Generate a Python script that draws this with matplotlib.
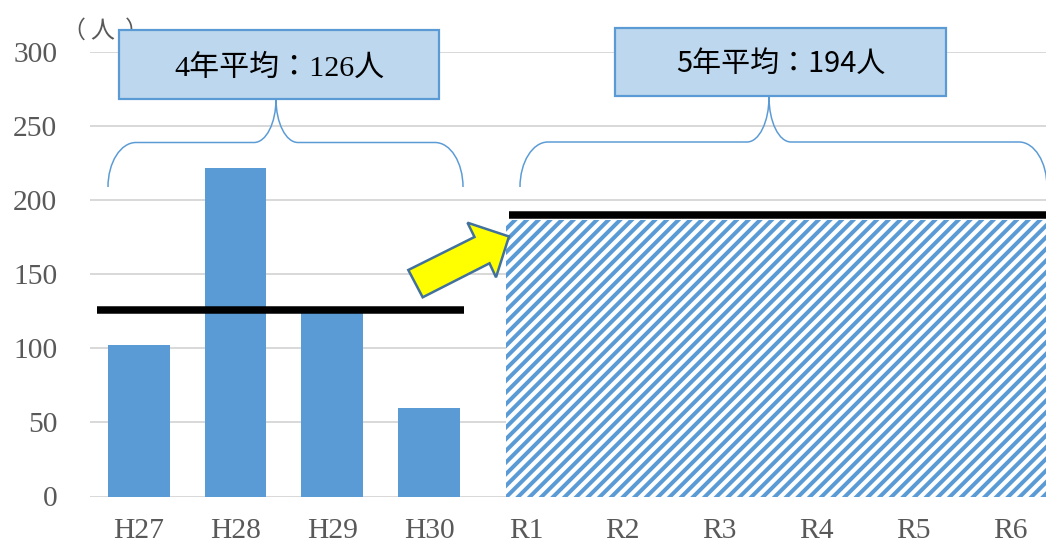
import matplotlib
matplotlib.use("Agg")
import matplotlib.pyplot as plt
from matplotlib.patches import Polygon, Rectangle, PathPatch
from matplotlib.path import Path
from matplotlib.transforms import Affine2D

# ---------------- data ----------------
categories = ["H27", "H28", "H29", "H30", "R1", "R2", "R3", "R4", "R5", "R6"]
h_categories = ["H27", "H28", "H29", "H30"]
h_values = [102, 222, 124, 60]
r_categories = ["R1", "R2", "R3", "R4", "R5", "R6"]
r_estimate = 187          # hatched (planned) level for R1-R6
avg_4yr = 126             # black line over H27-H30
avg_5yr_line = 190        # black line over R1-R6
avg_4yr_label = "4年平均：126人"
avg_5yr_label = "5年平均：194人"
y_ticks = [0, 50, 100, 150, 200, 250, 300]
unit_label_parts = ["（", "人", "）"]

# ---------------- setup ----------------
W, H, DPI = 1046, 542, 70


def pt(px):
    return px * 72.0 / DPI


plt.rcParams['hatch.linewidth'] = pt(4.0)

fig = plt.figure(figsize=(W / DPI, H / DPI), dpi=DPI)
fig.patch.set_facecolor("white")

# axes placement (pixel measurements of the reference)
x_left_px, x_right_px = 90.3, 1058.3
y_bottom_px, y_top_px = 496.5, 52.3
ax = fig.add_axes([x_left_px / W, 1 - y_bottom_px / H,
                   (x_right_px - x_left_px) / W, (y_bottom_px - y_top_px) / H])

xpos = {c: i for i, c in enumerate(categories)}
hx = [xpos[c] for c in h_categories]
rx = [xpos[c] for c in r_categories]

BLUE = "#5B9BD5"

ax.bar(hx, h_values, width=0.637, color=BLUE, zorder=2)

# hatched area for R1-R6
left = rx[0] - 0.21
right = rx[-1] + 0.5
ax.bar(left, r_estimate, width=right - left, align="edge", color="white",
       edgecolor=BLUE, linewidth=0, hatch="//", zorder=2)

# average lines
ax.hlines(avg_4yr, hx[0] - 0.43, hx[-1] + 0.36, colors="black",
          linewidth=pt(7.5), zorder=4)
ax.hlines(avg_5yr_line, rx[0] - 0.17, rx[-1] + 0.5, colors="black",
          linewidth=pt(7.5), zorder=4)

ax.set_xlim(-0.5, len(categories) - 0.5)
ax.set_ylim(0, 300)
ax.set_xticks(range(len(categories)))
ax.set_xticklabels(categories)
ax.set_yticks(y_ticks)
ax.yaxis.grid(True, color="#D9D9D9", linewidth=pt(2))
ax.set_axisbelow(True)
for s in ax.spines.values():
    s.set_visible(False)
ax.tick_params(axis="both", length=0, colors="#595959", labelsize=pt(29.5))
ax.tick_params(axis="y", pad=pt(33))
ax.tick_params(axis="x", pad=pt(21))
for lab in ax.get_xticklabels() + ax.get_yticklabels():
    lab.set_family("Liberation Serif")

# ---------------- decorations (pixel coords, y downward) ----------------
pix = Affine2D().scale(1.0 / W, -1.0 / H).translate(0, 1) + fig.transFigure

for ch, cx in zip(unit_label_parts, [73, 102.5, 137]):
    fig.text(cx / W, 1 - 38 / H, ch, ha="center", va="baseline",
             fontsize=pt(24), color="#595959",
             family=["Noto Sans CJK JP", "DejaVu Sans"], zorder=3)


def box(x0, y0, x1, y1, text, family, ty, size):
    r = Rectangle((x0, y0), x1 - x0, y1 - y0, transform=pix,
                  facecolor="#BDD7EE", edgecolor=BLUE, linewidth=pt(2.2),
                  zorder=6)
    fig.add_artist(r)
    fig.text(((x0 + x1) / 2) / W, 1 - ty / H, text, ha="center", va="center",
             fontsize=pt(size), color="black", family=family, zorder=7)


box(119, 30, 439, 99, avg_4yr_label, ["Liberation Serif", "Noto Sans CJK JP"], 68, 30)
box(615, 28, 946, 96, avg_5yr_label, ["Noto Sans CJK JP", "DejaVu Sans"], 64, 29)


def brace(x0, x1, xm, yb, yh, yt, rxo=28, rxi=22):
    k = 0.5523
    verts = [
        (x0, yb),
        (x0, yb - k * (yb - yh)), (x0 + rxo - k * rxo, yh), (x0 + rxo, yh),
        (xm - rxi, yh),
        (xm - rxi + k * rxi, yh), (xm, yt + k * (yh - yt)), (xm, yt),
        (xm, yt + k * (yh - yt)), (xm + rxi - k * rxi, yh), (xm + rxi, yh),
        (x1 - rxo, yh),
        (x1 - rxo + k * rxo, yh), (x1, yb - k * (yb - yh)), (x1, yb),
    ]
    codes = [Path.MOVETO,
             Path.CURVE4, Path.CURVE4, Path.CURVE4,
             Path.LINETO,
             Path.CURVE4, Path.CURVE4, Path.CURVE4,
             Path.CURVE4, Path.CURVE4, Path.CURVE4,
             Path.LINETO,
             Path.CURVE4, Path.CURVE4, Path.CURVE4]
    p = PathPatch(Path(verts, codes), transform=pix, facecolor="none",
                  edgecolor=BLUE, linewidth=pt(1.5), zorder=5)
    fig.add_artist(p)


brace(108, 463, 276, 187, 142.5, 99)
brace(520, 1047, 769, 187, 142, 97)

arrow_pts = [(408.3, 270), (474.5, 237), (467.5, 222.7), (509, 236.5),
             (496, 277.3), (489.5, 263.3), (422.7, 297.3)]
arrow = Polygon(arrow_pts, closed=True, transform=pix, facecolor="#FFFF00",
                edgecolor="#41719C", linewidth=pt(2.5), joinstyle="miter",
                zorder=6)
fig.add_artist(arrow)

fig.savefig("out.png", dpi=DPI, facecolor="white")
